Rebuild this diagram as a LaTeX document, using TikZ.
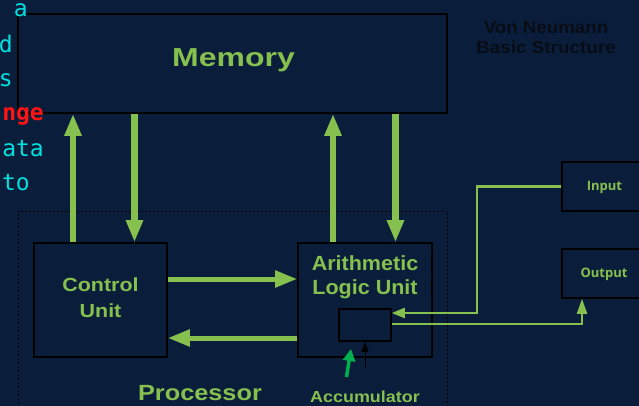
\documentclass[tikz,border=0pt]{standalone}
\usepackage{fontspec}
\setmainfont{Liberation Sans}
\newfontfamily\monofam{DejaVu Sans Mono}
\newfontfamily\osans{Open Sans}
\usetikzlibrary{arrows.meta}
\definecolor{bgnavy}{HTML}{0A1E3B}
\definecolor{lgreen}{HTML}{86C04E}
\definecolor{bgreen}{HTML}{00B04F}
\definecolor{cyantxt}{HTML}{00E0E0}
\definecolor{redtxt}{HTML}{FF1414}
\definecolor{darktxt}{HTML}{080C16}
\tikzset{
  blockbox/.style={draw=black, line width=1.6pt, inner sep=0pt, fill=none},
  vbig/.style={draw=lgreen, line width=6.5pt, -{Triangle[width=16pt,length=22pt]}},
  hbig/.style={draw=lgreen, line width=5pt, -{Triangle[width=16pt,length=22pt]}},
  thin/.style={draw=lgreen, line width=2.2pt},
  glabel/.style={text=lgreen, font=\bfseries, inner sep=0pt},
  leftmono/.style={font=\monofam\fontsize{23}{23}\selectfont, inner sep=0pt, anchor=base east}
}
\begin{document}
\begin{tikzpicture}[x=1pt,y=-1pt]
\useasboundingbox (0,0) rectangle (639,406);
\clip (0,0) rectangle (639,406);
\fill[bgnavy] (0,0) rectangle (639,406);

% title
\node[text=darktxt, font=\bfseries\fontsize{17.5}{20}\selectfont, inner sep=0pt, anchor=base] (title1) at (546,34) {\scalebox{1.07}[1]{Von Neumann}};
\node[text=darktxt, font=\bfseries\fontsize{17.5}{20}\selectfont, inner sep=0pt, anchor=base] (title2) at (546,54) {\scalebox{1.08}[1]{Basic Structure}};

% memory
\node[blockbox, minimum width=429pt, minimum height=99pt] (mem) at (232.5,63.5) {};
\node[glabel, font=\bfseries\fontsize{26}{26}\selectfont, anchor=base] (memlbl) at (233.5,67) {\scalebox{1.23}[1]{Memory}};

% processor dashed region
\draw[black, line width=0.8pt, dash pattern=on 2pt off 2pt] (18,440) -- (18,211) -- (447,211) -- (447,440);
\coordinate (proc) at (232,211);
\node[glabel, font=\bfseries\fontsize{22}{22}\selectfont, anchor=base] (proclbl) at (200,400) {\scalebox{1.15}[1]{Processor}};

% control unit
\node[blockbox, minimum width=133pt, minimum height=114pt] (cu) at (100.5,300) {};
\node[glabel, font=\bfseries\fontsize{19}{26}\selectfont, align=center] (culbl) at (100.5,298) {\scalebox{1.13}[1]{Control}\\\scalebox{1.13}[1]{Unit}};

% ALU
\node[blockbox, minimum width=134pt, minimum height=114pt] (alu) at (365,300) {};
\node[glabel, font=\bfseries\fontsize{20.5}{24.5}\selectfont, align=center] (alulbl) at (365,277) {\scalebox{1.05}[1]{Arithmetic}\\\scalebox{1.05}[1]{Logic Unit}};

% accumulator
\node[blockbox, minimum width=52pt, minimum height=32pt] (acc) at (365,325) {};
\node[glabel, font=\bfseries\fontsize{16}{16}\selectfont, anchor=base] (acclbl) at (365,402.5) {\scalebox{1.12}[1]{Accumulator}};

% input / output
\node[blockbox, minimum width=83pt, minimum height=49pt] (inp) at (603.5,186.5) {};
\node[glabel, font=\osans\bfseries\fontsize{13}{13}\selectfont, anchor=base] (inplbl) at (604.5,190) {Input};
\node[blockbox, minimum width=83pt, minimum height=49pt] (outp) at (603.5,273.5) {};
\node[glabel, font=\osans\bfseries\fontsize{13}{13}\selectfont, anchor=base] (outlbl) at (604,277) {Output};

% x guides
\coordinate (xa) at (73,0);
\coordinate (xb) at (134.5,0);
\coordinate (xc) at (333,0);
\coordinate (xd) at (395.5,0);
\coordinate (ya) at (0,279);
\coordinate (yb) at (0,338);
\coordinate (yin) at (0,313);
\coordinate (yout) at (0,324);
\coordinate (xin) at (477,0);
\coordinate (xout) at (582,0);

% big arrows
\draw[vbig] (xa |- cu.north) -- (xa |- mem.south);
\draw[vbig] (xb |- mem.south) -- (xb |- cu.north);
\draw[vbig] (xc |- alu.north) -- (xc |- mem.south);
\draw[vbig] (xd |- mem.south) -- (xd |- alu.north);
\draw[hbig] (cu.east |- ya) -- (alu.west |- ya);
\draw[hbig] (alu.west |- yb) -- (cu.east |- yb);

% input / output lines
\draw[thin, -{Triangle[width=10pt,length=13pt]}] (inp.west) -| (xin |- yin) -- (acc.east |- yin);
\draw[thin, -{Triangle[width=10pt,length=15pt]}] (acc.east |- yout) -| (xout |- outp.south);

% small arrows at accumulator
\coordinate (blk) at (365,368);
\draw[black, line width=1pt, -{Triangle[width=7pt,length=10pt]}] (blk) -- (blk |- acc.south);
\coordinate (gtail) at (346.5,377);
\coordinate (gtip) at (351,349);
\draw[bgreen, line width=3.5pt, -{Triangle[width=12pt,length=12pt]}] (gtail) -- (gtip);

% left clipped text (drawn on top)
\node[leftmono, text=cyantxt] (t1) at (28,16.5) {a};
\node[leftmono, text=cyantxt] (t2) at (13,53) {d};
\node[leftmono, text=cyantxt] (t3) at (13,87) {s};
\node[leftmono, text=redtxt, font=\monofam\bfseries\fontsize{23}{23}\selectfont] (t4) at (44,121) {nge};
\node[leftmono, text=cyantxt] (t5) at (44,157) {ata};
\node[leftmono, text=cyantxt] (t6) at (30,190) {to};
\end{tikzpicture}
\end{document}
